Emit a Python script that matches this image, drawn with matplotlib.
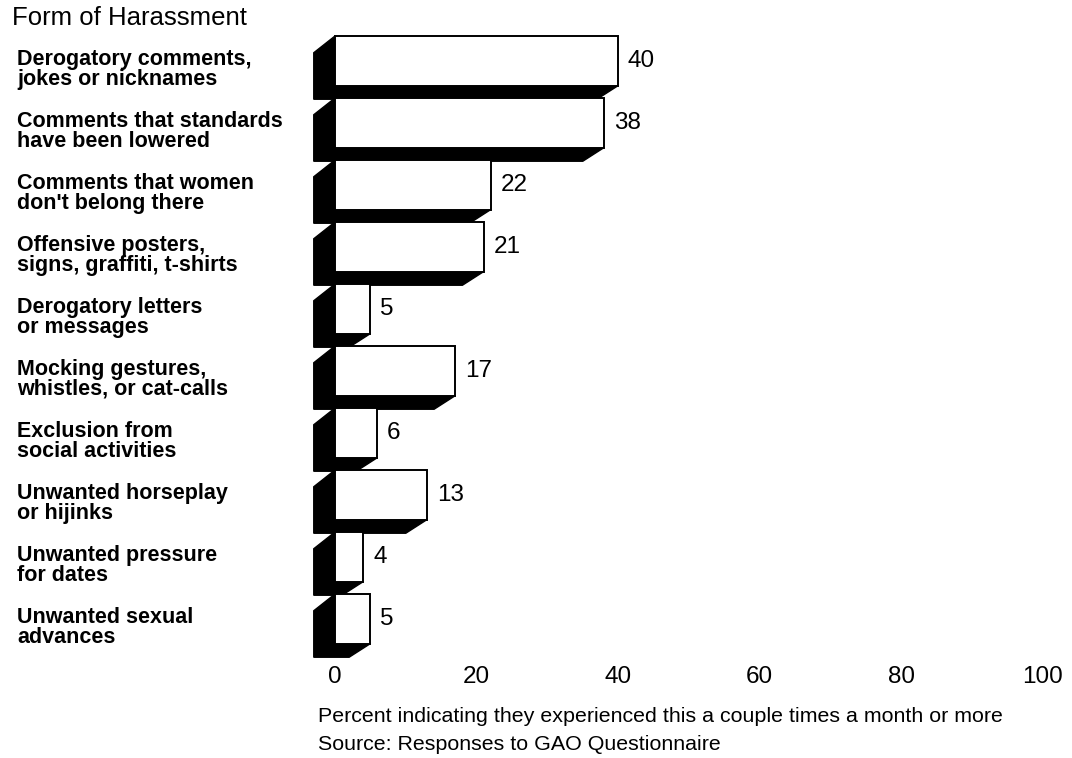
import matplotlib.pyplot as plt
from matplotlib.patches import Polygon, Rectangle
from matplotlib.transforms import blended_transform_factory

plt.rcParams['font.family'] = ['Liberation Sans', 'DejaVu Sans']

categories = [
    "Derogatory comments,\njokes or nicknames",
    "Comments that standards\nhave been lowered",
    "Comments that women\ndon't belong there",
    "Offensive posters,\nsigns, graffiti, t-shirts",
    "Derogatory letters\nor messages",
    "Mocking gestures,\nwhistles, or cat-calls",
    "Exclusion from\nsocial activities",
    "Unwanted horseplay\nor hijinks",
    "Unwanted pressure\nfor dates",
    "Unwanted sexual\nadvances",
]
values = [40, 38, 22, 21, 5, 17, 6, 13, 4, 5]
xticks = [0, 20, 40, 60, 80, 100]

fig = plt.figure(figsize=(10.72, 7.58), dpi=100)
ax = fig.add_axes([335 / 1072, 1 - 656 / 758, 708 / 1072, 620 / 758])

half = 0.4   # half height of the front face
dx = 3.0     # depth going left (data units)
dy = 0.22    # depth going down

for i, v in enumerate(values):
    top, bot = i - half, i + half
    # black side/bottom of the block
    shade = Polygon([(0, top), (-dx, top + 0.27), (-dx, bot + dy),
                     (v - dx, bot + dy), (v, bot), (0, bot)],
                    closed=True, facecolor='black', edgecolor='black', lw=1,
                    clip_on=False)
    ax.add_patch(shade)
    face = Rectangle((0, top), v, 2 * half, facecolor='white',
                     edgecolor='black', lw=1.4, zorder=3, clip_on=False)
    ax.add_patch(face)
    ax.annotate(str(v), xy=(v, i), xytext=(7, 0), textcoords='offset points',
                va='center', ha='left', fontsize=17.5)

ax.set_xlim(0, 100)
ax.set_ylim(9.6, -0.4)
ax.set_xticks(xticks)
ax.set_xticklabels([str(t) for t in xticks], fontsize=17.5)
ax.set_yticks([])
ax.tick_params(axis='x', length=0, pad=7)
for s in ax.spines.values():
    s.set_visible(False)

trans = blended_transform_factory(fig.transFigure, ax.transData)
for i, c in enumerate(categories):
    ax.text(17 / 1072, i + 0.14, c, transform=trans, ha='left', va='center',
            fontsize=15.5, fontweight='bold', linespacing=0.9)

fig.text(12 / 1072, 1 - 18 / 758, "Form of Harassment", fontsize=18.5,
         ha='left', va='center')
fig.text(318 / 1072, 1 - 716 / 758,
         "Percent indicating they experienced this a couple times a month or more",
         fontsize=15.4, ha='left', va='center')
fig.text(318 / 1072, 1 - 745 / 758, "Source: Responses to GAO Questionnaire",
         fontsize=15.4, ha='left', va='center')

fig.savefig('out.png', dpi=100, facecolor='white')
